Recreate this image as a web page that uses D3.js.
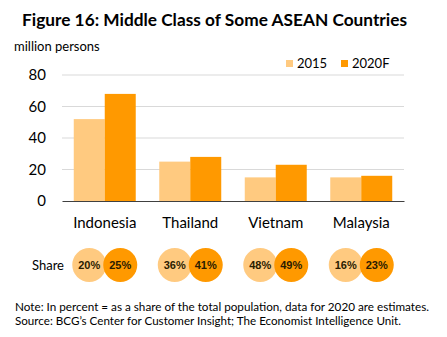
<!DOCTYPE html>
<html><head><meta charset="utf-8">
<script src="https://cdn.jsdelivr.net/npm/d3@7"></script>
<style>html,body{margin:0;padding:0;background:#fff;}svg{display:block;}</style>
</head><body>
<script>
const categories = ["Indonesia", "Thailand", "Vietnam", "Malaysia"];
const seriesNames = ["2015", "2020F"];
const values2015 = [52, 25, 15, 15];
const values2020 = [68, 28, 23, 16];
const share2015 = [20, 36, 48, 16];
const share2020 = [25, 41, 49, 23];
const yTicks = [0, 20, 40, 60, 80];
const titleText = "Figure 16: Middle Class of Some ASEAN Countries";
const unitText = "million persons";
const shareLabel = "Share";
const notes = [
  "Note: In percent = as a share of the total population, data for 2020 are estimates.",
  "Source: BCG\u2019s Center for Customer Insight; The Economist Intelligence Unit."
];
const colors = ["#FFCA80", "#FF9900"];

const W = 447, H = 337;
const svg = d3.select("body").append("svg").attr("width", W).attr("height", H);
const font = "Lato, 'Open Sans', sans-serif";

// Title
svg.append("text").attr("x", 22).attr("y", 26).attr("font-family", font)
  .attr("font-weight", "bold").attr("font-size", 17).attr("fill", "#000")
  .attr("textLength", 385).attr("lengthAdjust", "spacingAndGlyphs").text(titleText);

svg.append("text").attr("x", 14).attr("y", 51).attr("font-family", font)
  .attr("font-size", 13).attr("fill", "#000").text(unitText);

const x = d3.scaleBand().domain(categories).range([62, 404]).paddingInner(0.275).paddingOuter(0.1375);
const x1 = d3.scaleBand().domain(seriesNames).range([0, x.bandwidth()]).padding(0);
const y = d3.scaleLinear().domain([0, 80]).range([201, 75]);

// gridlines
svg.append("g").selectAll("line").data(yTicks.filter(d => d > 0)).join("line")
  .attr("x1", 62).attr("x2", 404).attr("y1", d => y(d)).attr("y2", d => y(d))
  .attr("stroke", "#d9d9d9").attr("stroke-width", 1);

// y axis labels
const yAxis = d3.axisLeft(y).tickValues(yTicks).tickSize(0).tickPadding(0);
const gy = svg.append("g").attr("transform", "translate(46,0)").call(yAxis);
gy.select(".domain").remove();
gy.selectAll("text").attr("font-family", font).attr("font-size", 15).attr("fill", "#000");

// bars
const data = categories.map((c, i) => ({ c, vals: [values2015[i], values2020[i]], shares: [share2015[i], share2020[i]] }));
const groups = svg.append("g").selectAll("g").data(data).join("g")
  .attr("transform", d => `translate(${x(d.c)},0)`);
groups.selectAll("rect").data(d => d.vals.map((v, j) => ({ s: seriesNames[j], v, j }))).join("rect")
  .attr("x", d => x1(d.s)).attr("width", x1.bandwidth())
  .attr("y", d => y(d.v)).attr("height", d => y(0) - y(d.v))
  .attr("fill", d => colors[d.j]);

// x axis
const xAxis = d3.axisBottom(x).tickSize(0).tickPadding(16);
const gx = svg.append("g").attr("transform", `translate(0,${y(0)})`).call(xAxis);
gx.select(".domain").attr("stroke", "#404040").attr("stroke-width", 1.2);
gx.selectAll("text").attr("font-family", font).attr("font-size", 15).attr("fill", "#000");

// legend
const leg = svg.append("g");
const legX = [286, 341];
seriesNames.forEach((s, i) => {
  leg.append("rect").attr("x", legX[i]).attr("y", 60).attr("width", 7).attr("height", 7).attr("fill", colors[i]);
  leg.append("text").attr("x", legX[i] + 11).attr("y", 68).attr("font-family", font)
    .attr("font-size", 13).attr("fill", "#000").text(s);
});

// share circles
const cy = 265;
svg.append("text").attr("x", 32).attr("y", cy + 4.5).attr("font-family", font)
  .attr("font-size", 13).attr("fill", "#000").text(shareLabel);
const cg = svg.append("g").selectAll("g").data(data).join("g")
  .attr("transform", d => `translate(${x(d.c)},0)`);
cg.selectAll("circle").data(d => d.shares.map((v, j) => ({ s: seriesNames[j], v, j }))).join("circle")
  .attr("cx", d => x1(d.s) + x1.bandwidth() / 2).attr("cy", cy).attr("r", 17)
  .attr("fill", d => colors[d.j]);
cg.selectAll("text").data(d => d.shares.map((v, j) => ({ s: seriesNames[j], v, j }))).join("text")
  .attr("x", d => x1(d.s) + x1.bandwidth() / 2).attr("y", cy + 4)
  .attr("text-anchor", "middle").attr("font-family", "'Liberation Sans', Arial, sans-serif")
  .attr("font-weight", "bold").attr("font-size", 11).attr("fill", "#2a1c00")
  .text(d => d.v + "%");

// notes
svg.append("g").selectAll("text").data(notes).join("text")
  .attr("x", 15).attr("y", (d, i) => 311 + i * 14).attr("font-family", font)
  .attr("font-size", 11.5).attr("fill", "#000")
  .attr("textLength", (d, i) => i === 0 ? 414 : 386).attr("lengthAdjust", "spacingAndGlyphs")
  .text(d => d);
</script>
</body></html>
